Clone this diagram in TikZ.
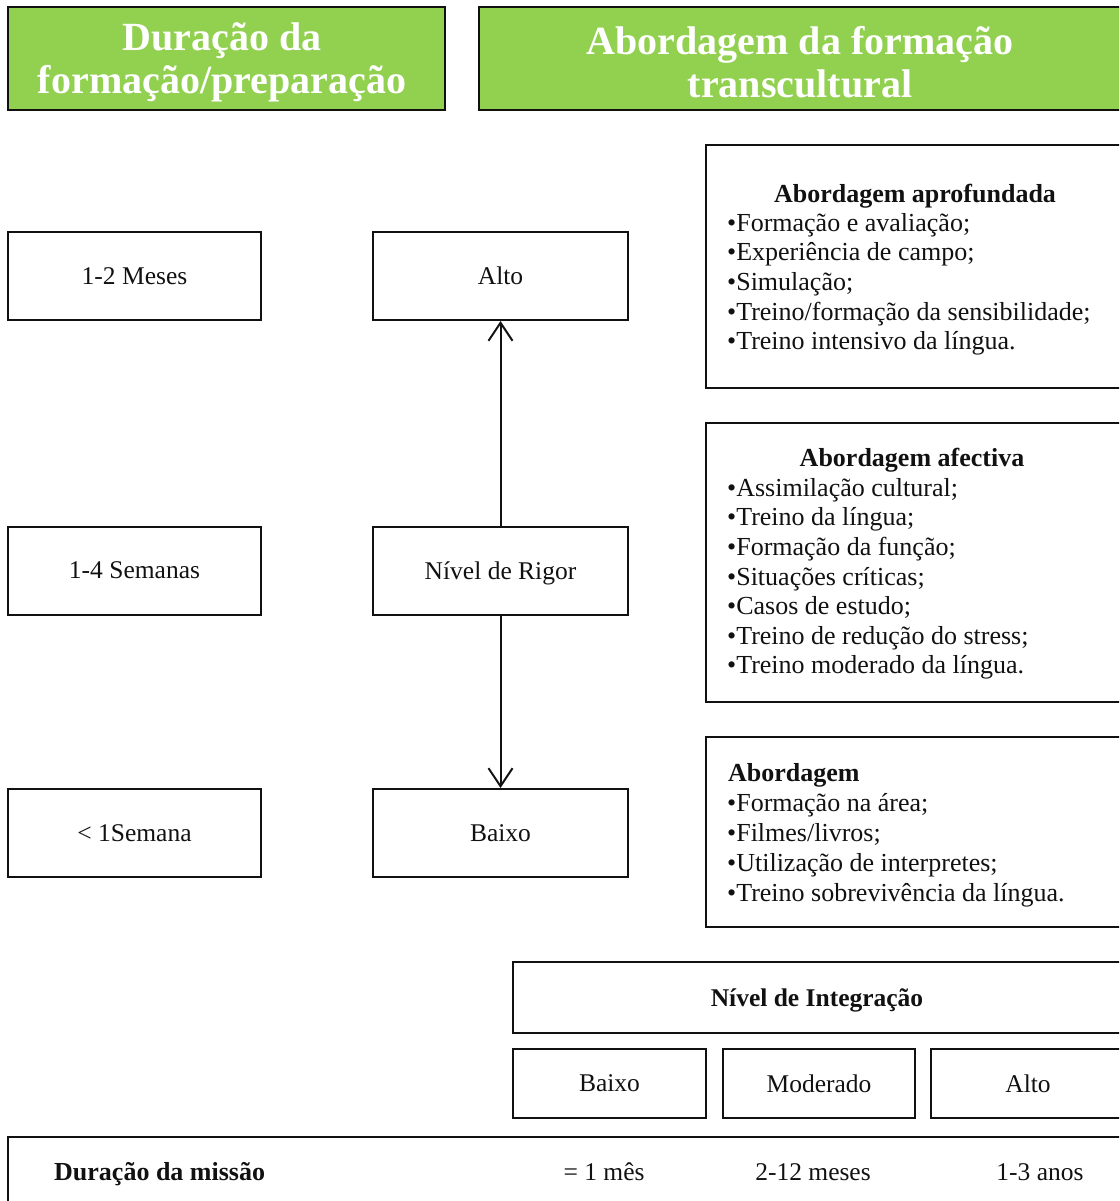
\documentclass[tikz,border=0pt]{standalone}
\usepackage{fontspec}
\setmainfont{Liberation Serif}
\usetikzlibrary{arrows.meta}
\definecolor{hdrgreen}{HTML}{92D050}
\definecolor{ink}{HTML}{111111}
\begin{document}
\begin{tikzpicture}[x=1pt,y=-1pt,
  box/.style={draw=ink, line width=2pt, inner sep=0pt, text depth=0pt, text=ink, font=\fontsize{25.5}{30}\selectfont},
  hdr/.style={draw=ink, line width=2pt, fill=hdrgreen, inner sep=0pt},
  hdrtext/.style={inner sep=0pt, text=white, align=center, font=\fontsize{40}{43}\selectfont\bfseries},
  item/.style={anchor=mid west, inner sep=0pt, text=ink, font=\fontsize{26}{30}\selectfont},
  head/.style={anchor=mid, inner sep=0pt, text=ink, font=\fontsize{26}{30}\selectfont\bfseries},
  val/.style={anchor=mid, inner sep=0pt, text=ink, font=\fontsize{25.5}{30}\selectfont},
  arr/.style={draw=ink, line width=2pt, -{Straight Barb[length=18pt,width=24pt,line width=2pt]}}
]
\useasboundingbox (0,0) rectangle (1119,1201);
\clip (0,0) rectangle (1119,1201);

% headers
\node[hdr, minimum width=437, minimum height=103] (h1) at (226.5,58.5) {};
\node[hdrtext] (h1t) at (222,62) {Duração da\\formação/preparação};
\node[hdr, minimum width=646, minimum height=103] (h2) at (802,58.5) {};
\node[hdrtext] (h2t) at (800,62) {Abordagem da formação\\transcultural};

% left column
\node[box, minimum width=253, minimum height=88] (d1) at (134.5,276) {1-2 Meses};
\node[box, minimum width=253, minimum height=88] (d2) at (134.5,570.5) {1-4 Semanas};
\node[box, minimum width=253, minimum height=88] (d3) at (134.5,833) {< 1Semana};

% middle column
\node[box, minimum width=255, minimum height=88] (alto) at (500.5,276) {Alto};
\node[box, minimum width=255, minimum height=88] (rigor) at (500.5,570.5) {Nível de Rigor};
\node[box, minimum width=255, minimum height=88] (baixo) at (500.5,833) {Baixo};
\draw[arr] (rigor.north) -- (alto.south);
\draw[arr] (rigor.south) -- (baixo.north);

% right column boxes
\node[box, minimum width=419, minimum height=243] (r1) at (915.5,266.5) {};
\node[box, minimum width=419, minimum height=279] (r2) at (915.5,562.5) {};
\node[box, minimum width=419, minimum height=190] (r3) at (915.5,832) {};

\node[head] (r1h) at (915,200) {Abordagem aprofundada};
\foreach \t [count=\i] in {Formação e avaliação;, Experiência de campo;, Simulação;, Treino/formação da sensibilidade;, Treino intensivo da língua.}
  \node[item] (r1i\i) at (727,{229+29.6*(\i-1)}) {\textbullet\t};

\node[head] (r2h) at (912,464) {Abordagem afectiva};
\foreach \t [count=\i] in {Assimilação cultural;, Treino da língua;, Formação da função;, Situações críticas;, Casos de estudo;, Treino de redução do stress;, Treino moderado da língua.}
  \node[item] (r2i\i) at (727,{494+29.6*(\i-1)}) {\textbullet\t};

\node[head, anchor=mid west] (r3h) at (728,779) {Abordagem};
\foreach \t [count=\i] in {Formação na área;, Filmes/livros;, Utilização de interpretes;, Treino sobrevivência da língua.}
  \node[item] (r3i\i) at (727,{809+30*(\i-1)}) {\textbullet\t};

% integration
\node[box, minimum width=612, minimum height=71, font=\fontsize{25.5}{30}\selectfont\bfseries] (integ) at (819,997.5) {\hspace*{-4pt}Nível de Integração};
\node[box, minimum width=193, minimum height=69] (ib) at (609.5,1083.5) {Baixo};
\node[box, minimum width=192, minimum height=69] (im) at (819,1083.5) {Moderado};
\node[box, minimum width=194, minimum height=69] (ia) at (1028,1083.5) {Alto};

% mission duration
\node[box, minimum width=1117, minimum height=78] (miss) at (566.5,1176) {};
\node[item, font=\fontsize{26}{30}\selectfont\bfseries] (missl) at (54,1178) {Duração da missão};
\node[val] (m1) at (604,1178) {= 1 mês};
\node[val] (m2) at (813,1178) {2-12 meses};
\node[val] (m3) at (1040,1178) {1-3 anos};
\end{tikzpicture}
\end{document}
